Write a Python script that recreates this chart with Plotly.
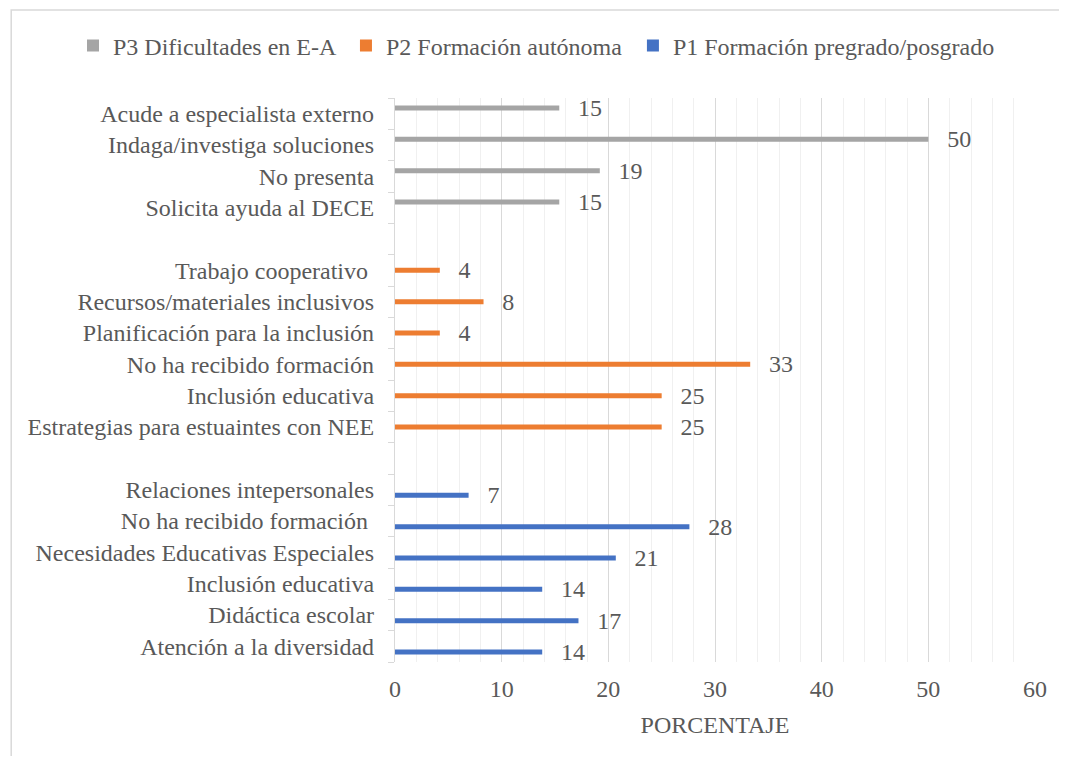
import plotly.graph_objects as go

# ---- data ----
p1_labels = ["Atención a la diversidad", "Didáctica escolar", "Inclusión educativa",
             "Necesidades Educativas Especiales", "No ha recibido formación ",
             "Relaciones intepersonales"]
p1_values = [13.8, 17.2, 13.8, 20.7, 27.6, 6.9]

p2_labels = ["Estrategias para estuaintes con NEE", "Inclusión educativa",
             "No ha recibido formación", "Planificación para la inclusión",
             "Recursos/materiales inclusivos", "Trabajo cooperativo "]
p2_values = [25.0, 25.0, 33.3, 4.2, 8.3, 4.2]

p3_labels = ["Solicita ayuda al DECE", "No presenta", "Indaga/investiga soluciones",
             "Acude a especialista externo"]
p3_values = [15.4, 19.2, 50.0, 15.4]

series_names = ["P1 Formación pregrado/posgrado", "P2 Formación autónoma ",
                "P3 Dificultades en E-A "]
colors = ["#4472C4", "#ED7D31", "#A5A5A5"]

# category rows from bottom, with a blank row between groups
all_labels = p1_labels + [""] + p2_labels + [""] + p3_labels
p1_pos = list(range(0, len(p1_labels)))
p2_pos = list(range(len(p1_labels) + 1, len(p1_labels) + 1 + len(p2_labels)))
p3_pos = list(range(p2_pos[-1] + 2, p2_pos[-1] + 2 + len(p3_labels)))
n_rows = len(all_labels)

FONT = "Liberation Serif"
TXT = "#595959"
FS = 24

BAR_W = 0.16
centers = [-0.18, 0.0, 0.18]

fig = go.Figure()
for name, pos, vals, col, c in zip(series_names, [p1_pos, p2_pos, p3_pos],
                                   [p1_values, p2_values, p3_values], colors, centers):
    fig.add_trace(go.Bar(
        name=name, y=pos, x=vals, orientation="h",
        width=BAR_W, offset=c - BAR_W / 2,
        marker=dict(color=col, line=dict(width=0)),
        texttemplate="  \u2009\u200a%{x:.0f}", textposition="outside",
        textfont=dict(family=FONT, size=FS, color=TXT),
        constraintext="none", cliponaxis=False,
    ))

# page offset (body margin) and plot area in page pixels
OFF = 8
W, H = 1067 - 2 * OFF, 764 - 2 * OFF
L, T = 395 - OFF, 98 - OFF
R = W - (1037 - OFF)
B = H - (662 - OFF)
pw, ph = W - L - R, H - T - B

def px_x(x):  # page x -> paper
    return (x - OFF - L) / pw

def px_y(y):  # page y -> paper
    return (H - B - (y - OFF)) / ph

fig.update_layout(
    width=W, height=H,
    margin=dict(l=L, r=R, t=T, b=B),
    paper_bgcolor="white", plot_bgcolor="white",
    barmode="overlay",
    font=dict(family=FONT, size=FS, color=TXT),
    showlegend=True,
    legend=dict(orientation="h", traceorder="reversed",
                x=px_x(72), xanchor="left",
                y=px_y(46), yanchor="middle",
                bgcolor="rgba(0,0,0,0)",
                font=dict(family=FONT, size=FS, color=TXT),
                itemwidth=30),
    xaxis=dict(range=[0, 60], dtick=10, tick0=0,
               showgrid=True, gridcolor="#D9D9D9", gridwidth=1.3,
               zeroline=False, showline=False, ticks="",
               ticklabelstandoff=10,
               tickfont=dict(family=FONT, size=FS, color=TXT),
               minor=dict(dtick=2, showgrid=True, gridcolor="#F0F0F0", gridwidth=1),
               title=dict(text="PORCENTAJE", standoff=15,
                          font=dict(family=FONT, size=FS, color=TXT))),
    yaxis=dict(range=[-0.5, n_rows - 0.5],
               tickmode="array", tickvals=list(range(n_rows)), ticktext=all_labels,
               ticks="", showgrid=False, zeroline=False,
               showline=True, linecolor="#D9D9D9", linewidth=1.3,
               ticklabelstandoff=15,
               tickfont=dict(family=FONT, size=FS, color=TXT),
               minor=dict(tickmode="array",
                          tickvals=[i - 0.5 for i in range(n_rows + 1)],
                          ticks="outside", ticklen=6, tickcolor="#D9D9D9",
                          tickwidth=1.3, showgrid=False)),
    shapes=[dict(type="rect", xref="paper", yref="paper",
                 x0=px_x(10), x1=px_x(1200), y0=px_y(900), y1=px_y(10),
                 line=dict(color="#D9D9D9", width=1.5), fillcolor="rgba(0,0,0,0)",
                 layer="below")],
)

fig.write_html("out.html")
